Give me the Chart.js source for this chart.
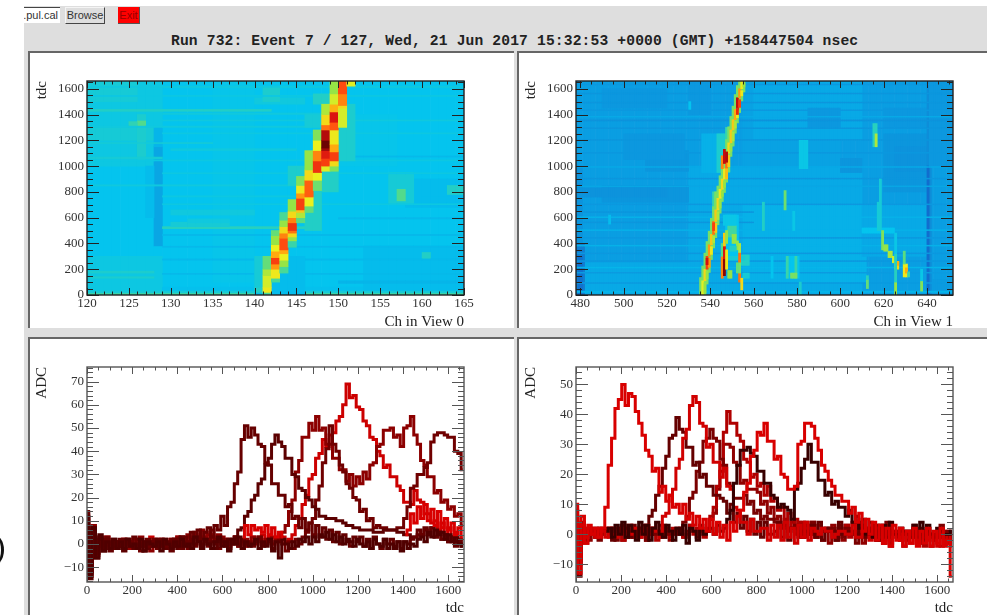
<!DOCTYPE html>
<html><head><meta charset="utf-8">
<script src="https://cdn.jsdelivr.net/npm/chart.js@4/dist/chart.umd.js"></script>
<style>
html,body{margin:0;padding:0;width:987px;height:615px;overflow:hidden;background:#fff}
#wrap{position:absolute;left:0;top:0;width:987px;height:615px;filter:blur(0.6px);overflow:hidden}
.abs{position:absolute;box-sizing:border-box}
canvas{position:absolute}
</style></head><body>
<div id="wrap">
<div class="abs" style="left:24px;top:6px;width:963px;height:609px;background:#dedede"></div>
<div class="abs" style="left:24px;top:7px;width:36px;height:16px;background:#fff;border-top:1px solid #444;overflow:hidden"><span style="position:absolute;right:2px;top:0;font:11px 'Liberation Sans';color:#333;line-height:15px;white-space:nowrap">t.pul.cal</span></div>
<div class="abs" style="left:65px;top:7px;width:40px;height:17px;background:#dedede;border:1px solid #f4f4f4;border-right:1px solid #444;border-bottom:1px solid #444;font:11px 'Liberation Sans';color:#333;line-height:15px;text-align:center">Browse</div>
<div class="abs" style="left:118px;top:7px;width:22px;height:17px;background:#f00;border-right:1px solid #555;border-bottom:1px solid #555;font:11px 'Liberation Sans';color:#900;line-height:16px;text-align:center">Exit</div>
<div class="abs" style="left:171px;top:32px;font:bold 14.65px 'Liberation Mono';letter-spacing:.14px;color:#222;white-space:nowrap;line-height:18px">Run 732: Event 7 / 127, Wed, 21 Jun 2017 15:32:53 +0000 (GMT) +158447504 nsec</div>
<div class="abs" style="left:28px;top:51px;width:486px;height:277px;background:#fff;border-left:2px solid #666;border-top:2px solid #666"></div>
<div class="abs" style="left:517px;top:51px;width:470px;height:277px;background:#fff;border-left:2px solid #666;border-top:2px solid #666"></div>
<div class="abs" style="left:28px;top:337px;width:486px;height:278px;background:#fff;border-left:2px solid #666;border-top:2px solid #666"></div>
<div class="abs" style="left:517px;top:337px;width:470px;height:278px;background:#fff;border-left:2px solid #666;border-top:2px solid #666"></div>
<div class="abs" style="left:-22px;top:533px;width:26px;height:34px;border-right:3px solid #111;border-radius:50%"></div>
<canvas id="c0" width="489" height="277" style="left:33px;top:54px"></canvas>
<canvas id="c1" width="465" height="277" style="left:522px;top:54px"></canvas>
<canvas id="c2" width="489" height="276" style="left:33px;top:341px"></canvas>
<canvas id="c3" width="465" height="276" style="left:522px;top:341px"></canvas>
</div>
<script>
// ---- axis ticks ----
const xTicks0=[120,125,130,135,140,145,150,155,160,165];
const xTicks1=[480,500,520,540,560,580,600,620,640];
const yTicksTdc=[0,200,400,600,800,1000,1200,1400,1600];
const xTicksTdc=[0,200,400,600,800,1000,1200,1400,1600];
const yTicksAdc0=[-10,0,10,20,30,40,50,60,70];
const yTicksAdc1=[-10,0,10,20,30,40,50];
// ---- heat map rectangles: first channel, end channel, first tdc, end tdc, level ----
const heatRects0=[
[120,165,0,1660,32],
[120,129,1000,1660,33.5],[120,129,0,300,33.5],[120,128,1200,1300,35],[120,126,1500,1660,35],[129,165,0,60,31.5],
[135,140,100,1660,32.5],[150,157,1000,1400,32.5],[153,165,0,380,31],[150,165,90,110,30],[158,165,680,900,31],[160,165,720,760,31],
[128,129,380,1150,28],[128,129,1150,1300,30],[127,128,600,1000,31],
[126,127,1050,1400,36],[126,127,1310,1350,43],[125,126,1310,1345,39],
[156,159,700,950,35],[157,158,730,820,43],[163,165,780,850,37],[160,161,280,330,37],
[120,165,0,18,40],[120,165,18,30,35],
[120,142,1425,1440,37],[120,150,1300,1310,34],[129,146,515,530,38],[130,137,530,565,35],[132,137,560,590,34],[130,140,620,660,34],
[120,145,845,855,34],[129,150,1400,1412,34],[130,145,1120,1135,34],[120,135,1175,1182,35],[120,129,1055,1070,35],[140,146,1480,1530,34],[141,143,1500,1620,36],
[120,128,170,185,36],[120,128,130,142,36],[129,165,1250,1258,33.5],[129,165,1350,1358,34],[129,165,700,708,33.5],[129,146,760,770,33.5],[129,165,940,948,33.5],
[120,165,1040,1048,33.5],[120,165,1540,1548,33.5],[120,165,1610,1618,34],[129,165,460,470,30.5],[129,165,270,280,30.5],[129,165,370,378,30.5],[129,165,160,168,30.5],[150,165,590,600,30.5],[150,165,1070,1078,30.5],
[140,146,0,300,31],[140,141,20,60,37],[140,141,60,300,35],
[146,148,500,810,37],[144,146,850,1000,36],[150,152,1040,1480,36],[147,150,1480,1560,37],[148,150,800,1000,37],[146,149,1300,1400,35],
[141,142,0,20,42],[141,142,20,60,58],[141,142,60,150,55],[141,142,150,200,52],[141,142,200,300,45],
[142,143,100,130,42],[142,143,130,200,58],[142,143,200,240,68],[142,143,240,290,78],[142,143,290,340,66],[142,143,340,390,57],[142,143,390,460,50],[142,143,460,500,45],
[143,144,170,220,42],[143,144,220,270,50],[143,144,270,320,57],[143,144,320,350,66],[143,144,350,440,76],[143,144,440,480,70],[143,144,480,530,60],[143,144,530,580,50],[143,144,580,640,42],
[144,145,370,420,40],[144,145,420,450,50],[144,145,450,480,60],[144,145,480,500,72],[144,145,500,560,80],[144,145,560,600,70],[144,145,600,650,60],[144,145,650,740,50],
[145,146,560,600,44],[145,146,600,640,52],[145,146,640,660,62],[145,146,660,750,78],[145,146,750,790,68],[145,146,790,850,58],[145,146,850,920,48],
[146,147,640,690,45],[146,147,690,760,57],[146,147,760,890,74],[146,147,890,970,60],[146,147,970,1120,50],
[147,148,810,890,46],[147,148,890,950,57],[147,148,950,1040,80],[147,148,1040,1120,70],[147,148,1120,1200,57],[147,148,1200,1280,48],
[148,149,960,1000,56],[148,149,1000,1060,78],[148,149,1060,1120,84],[148,149,1120,1140,92],[148,149,1140,1200,98],[148,149,1200,1280,90],[148,149,1280,1320,72],[148,149,1320,1400,60],[148,149,1400,1480,52],
[149,150,960,1000,48],[149,150,1000,1040,60],[149,150,1040,1110,78],[149,150,1110,1170,66],[149,150,1170,1280,58],[149,150,1280,1340,75],[149,150,1340,1420,85],[149,150,1420,1480,65],[149,150,1480,1560,55],[149,150,1560,1660,50],
[150,151,1300,1450,55],[150,151,1450,1470,60],[150,151,1470,1560,70],[150,151,1560,1660,76],
[151,152,1620,1660,56]
];
const heatRects1=[
[478,652,0,1660,27],
[530,610,0,1000,28.5],[555,612,100,700,29.5],[610,640,300,700,28.5],[478,530,0,250,28.5],[640,652,0,120,26.5],[555,600,1000,1660,27.5],[560,610,1200,1660,28.5],
[478,482,0,400,21],[479,481,0,300,18],[478,481,400,1000,25],
[490,530,720,850,25.5],[478,520,760,830,25],[510,530,960,1120,25.5],[500,528,1050,1250,26],[490,520,1450,1600,26],[530,540,1400,1660,26],
[600,610,950,1060,25.5],[620,640,800,1250,25.5],[625,640,960,1150,25],[585,600,1300,1450,26],[620,640,1300,1450,26],[640,642,0,1660,24],[640,641,0,1000,17],[641,652,1000,1660,26],
[478,652,20,30,30],[478,652,1350,1358,25],[478,652,1290,1296,25.5],[478,652,900,906,25.5],[478,560,640,646,25.5],[478,560,560,566,25.5],[478,652,1490,1496,25.5],[478,652,1560,1566,25.5],[478,652,1200,1206,25.5],
[478,652,320,326,26],[478,652,260,266,26],[478,652,440,446,26],[478,652,700,706,26],[478,652,1100,1106,26],[478,652,1430,1436,26],[478,652,1630,1636,26],[478,652,170,176,26.5],[478,652,90,96,26.5],
[478,652,1380,1386,28.5],[478,652,990,996,28.5],[478,652,840,846,28],[478,652,600,606,29.5],[478,652,500,506,29.5],[478,652,380,386,29.5],[478,652,210,216,30],
[536,548,950,1250,29.5],[543,549,950,1250,36],[547,549,1150,1300,40],[541,544,560,800,40],[542,543,600,800,47],[530,531,1440,1500,32],[493,494,550,620,31],
[564,565,500,720,37],[574,575,660,810,46],[581,585,980,1200,33],[615,617,1150,1330,38],[616,617,1150,1250,52],
[575,581,130,300,32],[575,576,130,300,40],[579,580,130,300,40],[577,580,130,170,47],[581,582,0,100,36],[578,579,500,650,33],[568,569,130,300,32],
[612,613,50,120,45],[612,613,120,150,38],[610,625,480,520,32],[617,618,500,720,35],[618,619,500,900,35],[619,620,350,500,48],[620,622,340,390,50],[622,624,290,340,52],[624,625,250,300,55],[625,627,200,260,60],[626,627,230,260,66],
[625,626,0,100,50],[625,626,100,320,38],[625,626,320,480,33],[629,631,140,240,58],[630,631,170,210,66],[629,630,240,340,44],[631,632,140,180,40],[637,638,30,110,48],[637,638,110,200,33],
[547,553,280,620,32],[548,552,450,540,41],[550,552,400,470,50],[552,553,350,420,50],[549,552,340,380,37],[554,558,230,310,37],[555,558,130,170,35],[548,556,270,300,35],[546,552,540,620,33],[548,550,130,190,50],[552,553,170,250,45],
[545,546,130,300,70],[545,546,300,400,44],[546,547,150,280,95],[546,547,280,380,85],[546,547,380,480,62],[547,548,200,350,58],[547,548,400,500,50],[553,554,250,330,72],[553,554,330,400,52],[553,554,100,170,72],[554,555,40,130,60],[553,554,170,250,46]
];
// ---- view-1 track: channel, first tdc, end tdc, level ----
const track1=[[536,0,110,56],[537,110,200,60],[538,200,300,78],[539,300,390,68],[540,390,470,62],[541,470,570,72],[542,570,660,62],[543,660,750,60],[544,750,820,58],[545,820,900,60],[546,900,980,58],[547,980,1100,72],[548,1100,1180,60],[549,1180,1280,62],[550,1280,1360,62],[551,1360,1440,66],[552,1440,1530,88],[553,1530,1600,68],[554,1600,1660,58]];
const trackHot1=[[538,235,285,86],[541,500,560,78],[545,980,1080,70],[546,1020,1130,88],[547,1030,1110,90],[547,900,980,64],[552,1400,1450,82]];
// ---- waveforms, one sample every 15 tdc ----
const tdcSamples=[0,15,30,45,60,75,90,105,120,135,150,165,180,195,210,225,240,255,270,285,300,315,330,345,360,375,390,405,420,435,450,465,480,495,510,525,540,555,570,585,600,615,630,645,660,675,690,705,720,735,750,765,780,795,810,825,840,855,870,885,900,915,930,945,960,975,990,1005,1020,1035,1050,1065,1080,1095,1110,1125,1140,1155,1170,1185,1200,1215,1230,1245,1260,1275,1290,1305,1320,1335,1350,1365,1380,1395,1410,1425,1440,1455,1470,1485,1500,1515,1530,1545,1560,1575,1590,1605,1620,1635,1650,1665];
const n=null;
const adcL1=[14,-13,7,-6,3,-2,2,-3,1,-2, 2,-2,1,-1,3,-2,0,-3,2,-1, 1,-2,2,-1,0,-3,2,0,-2,3, 1,5,3,6,2,5,7,3,8,6, 12,8,16,18,26,31,45,51,46,50, 47,43,42,35,34,26,26,21,21,16, 17,11,12,7,11,6,9,4,8,3, 7,2,6,1,5,0,4,1,-1,3, 1,3,-1,2,-2,3,0,-2,2,0, 2,-1,1,-2,1,0,2,3,6,4, 7,4,7,3,5,2,4,1,3,-1, 1,-1];
const adcL2=[13,-12,6,-4,2,-3,1,-2,2,-1, 1,-3,2,0,-2,2,-1,1,-2,1, -1,2,0,-2,1,-1,2,-2,3,1, -1,2,0,3,-1,2,0,1,-2,2, 1,-1,2,0,3,6,7,12,14,19, 21,26,28,34,37,43,47,44,42,37, 37,30,29,24,23,20,19,16,15,12, 12,11,11,11,10,10,9,8,8,7, 7,6,6,6,6,5,5,5,6,6, 6,6,5,5,4,4,3,3,4,4, 6,4,7,3,5,2,4,1,3,1, 2,0];
const adcL3=[12,-14,8,-5,3,-1,2,-2,0,1, -1,2,-2,1,0,-2,3,-1,1,-3, 2,0,-1,2,-2,1,0,3,-1,2, 4,2,5,3,6,3,4,6,2,4, 3,1,2,0,3,-1,1,2,0,3, 1,3,0,2,1,3,2,4,5,8, 14,19,31,36,46,46,52,49,55,49, 50,43,43,37,37,32,32,27,30,25, 29,26,31,28,34,35,42,43,49,49, 50,46,47,42,50,51,55,47,43,36, 34,29,29,22,23,18,19,15,16,12, 13,8];
const adcL4=[11,-12,6,-4,2,-1,3,-2,1,-1, 0,-2,2,1,-1,2,-3,0,1,-1, 2,-1,1,-2,0,2,-1,1,3,0, -2,1,-1,2,0,1,-1,3,0,-2, 2,0,-2,1,3,-1,2,0,1,-1, 1,3,-1,0,2,-2,1,3,0,-3, 1,-2,2,0,3,5,9,11,19,25, 35,41,51,43,40,34,31,26,24,20, 19,14,15,10,11,7,8,7,7,6, 6,6,7,7,11,16,24,25,30,30, 33,35,44,47,48,48,47,46,46,40, 39,32];
const adcL5=[10,-11,5,-3,2,-1,3,0,-2,1, -1,2,0,-2,2,-1,1,0,-1,3, 1,-1,2,0,-2,2,1,3,0,2, 3,1,4,2,3,5,2,4,1,3, 0,2,-1,1,3,0,2,-1,1,3, 0,2,4,1,3,0,2,1,3,1, 2,4,8,11,17,21,28,30,37,39, 45,42,47,48,53,55,60,69,63,64, 59,58,53,51,46,45,40,38,33,34, 29,29,25,23,18,18,17,23,19,18, 13,13,9,10,6,9,4,7,2,5, 2,2];
const adcL6=[n,n,n,n,n,n,n,n,n,n, n,n,n,n,n,n,n,n,n,n, n,n,n,n,n,n,n,n,n,n, n,n,n,n,n,n,n,n,n,n, n,n,n,n,n,n,3,8,4,8, 6,7,5,8,4,7,3,5,3,n, n,n,n,n,n,n,n,n,n,n, n,n,n,n,n,n,n,n,n,n, n,n,n,n,n,n,n,n,n,n, n,n,n,n,4,6,13,9,16,11, 17,10,15,8,14,7,11,6,9,4, 7,3];
const adcL7=[12,-15,7,-6,4,-3,1,-2,2,-2, 1,-2,2,-1,0,-2,2,-3,1,0, -1,1,-3,2,0,-2,1,-1,2,-1, 0,-2,3,1,-2,2,0,-2,1,3, -1,1,-3,2,0,3,-2,1,-1,0, 2,-2,1,-1,2,-3,1,-6,2,0, -2,1,-1,2,1,3,0,3,1,4, 3,5,2,4,1,3,0,2,1,-1, 2,0,-1,1,-2,2,0,-1,2,-2, 0,-2,1,-3,1,-2,0,-1,2,3, 1,5,3,6,4,5,2,4,1,3, 0,-1];
const adcR1=[10,-13,6,-3,3,0,2,-1,2,9, 23,32,42,45,50,43,47,46,41,37, 33,28,26,21,22,14,16,11,13,9, 10,7,10,5,7,3,6,2,5,1, 5,0,4,-1,3,-2,4,1,6,8, 14,17,26,28,34,33,37,31,31,25, 26,20,19,15,15,16,30,31,37,37, 36,32,28,23,21,18,16,13,13,11, 11,7,9,4,7,1,5,0,4,-2, 3,-3,2,-4,3,-2,2,-4,1,-3, 2,-4,1,-3,2,-4,1,-3,2,-4, -2,-14];
const adcR2=[6,-8,3,-1,2,0,-1,2,1,-1, 2,0,-1,2,0,1,3,0,2,-1, 1,3,0,2,1,-1,6,7,13,15, 22,25,32,35,43,46,44,37,36,29, 30,24,24,19,22,16,15,9,8,4, 4,0,5,1,1,2,2,-2,3,-1, 3,-2,4,-1,2,-3,3,-1,4,-2, 2,1,0,2,1,1,-1,0,1,1, 0,0,3,-1,-1,1,2,-2,3,-1, 2,-3,3,-1,0,0,-2,1,1,-3, 2,-3,1,1,-2,0,0,-4,1,-3, 0,-4];
const adcR3=[4,-9,2,-3,1,2,-1,0,2,1, -1,2,0,1,-2,2,1,-1,0,2, 1,-1,2,0,-2,1,3,0,-1,2, 0,2,-1,1,3,0,2,1,-1,2, 6,9,16,23,34,41,37,37,33,31, 25,24,19,20,16,17,13,16,11,12, 8,9,4,7,2,5,0,4,-1,3, 4,-1,3,-2,2,2,1,1,0,0, 3,-1,4,0,0,1,1,0,-1,0, 3,-2,2,-4,1,1,-1,0,0,-1, -1,0,0,-4,2,-1,-1,0,-4,1, 0,-3];
const adcR4=[8,-14,4,-2,2,1,-1,2,0,1, 1,-2,2,0,3,1,-1,3,0,2, 3,3,6,8,13,16,22,26,32,33, 39,35,34,29,29,23,24,19,20,16, 16,13,13,12,11,7,10,4,7,2, 6,1,5,0,4,-1,4,0,0,1, 4,-1,3,-2,2,2,-1,1,1,0, 3,-1,4,-2,2,1,1,-2,4,0, 1,1,0,0,4,-1,-1,1,2,-2, 1,1,-1,0,0,-1,-2,0,0,-1, 3,-2,2,-3,1,0,-2,-1,0,0, -1,-1];
const adcR5=[5,-10,3,-1,2,0,1,-2,1,2, 0,2,-2,1,3,-1,0,2,1,-1, 1,-2,2,0,1,3,-1,2,0,1, 2,0,4,6,12,14,21,24,31,32, 35,32,31,25,23,17,16,12,12,12, 13,10,11,7,8,5,6,5,5,4, 4,3,3,2,2,3,3,-1,4,0, 4,0,0,1,1,2,2,-2,3,-1, 2,2,1,-3,3,0,0,2,1,1, 0,0,4,-3,1,1,0,0,-2,-1, 2,-3,1,1,0,0,-2,-1,3,-3, 1,-2];
const adcR6=[n,n,n,n,n,n,n,n,n,1, 2,-1,3,0,4,-1,3,1,-2,4, 0,3,-2,2,4,0,-1,3,1,-2, 2,0,3,-3,2,1,-2,3,0,1, 2,0,3,1,2,5,8,17,23,28, 28,29,27,26,21,21,17,17,13,12, 9,10,9,8,5,15,17,22,25,30, 24,24,18,18,13,14,10,11,9,9, 6,8,4,6,2,5,0,4,-1,3, -2,3,-1,4,0,0,2,1,1,-1, 3,-1,4,-2,3,0,-1,2,1,0, 0,1];
const adcR7=[3,-7,2,0,-2,1,2,-1,0,1, 2,-1,0,1,-2,2,0,-1,1,2, 0,-2,1,2,0,-1,2,1,-2,0, 1,2,-1,0,3,1,-1,2,0,1, 5,7,15,21,30,30,29,24,23,17, 18,15,15,15,14,10,11,7,9,5, 6,2,5,1,4,0,4,-1,3,0, 3,-1,0,1,2,-3,3,-1,2,-2, 3,0,0,-1,3,-3,2,-1,3,-2, 2,-3,1,1,0,-1,2,-4,1,0, 0,0,-3,1,0,-4,0,-1,-1,0, -3,1];
// series bottom to top
const leftWaves=[[adcL5,'#cc0000'],[adcL3,'#8c0000'],[adcL4,'#700000'],[adcL2,'#5c0000'],[adcL1,'#660000'],[adcL7,'#500000'],[adcL6,'#d80000']];
const rightWaves=[[adcR7,'#900000'],[adcR3,'#b00000'],[adcR5,'#7a0000'],[adcR4,'#650000'],[adcR2,'#d00000'],[adcR6,'#380000'],[adcR1,'#d80000']];

// ---- palette ----
const stops=[[0,[10,30,150]],[15,[16,100,205]],[22,[18,130,210]],[27,[10,158,226]],[32,[4,196,238]],[38,[40,208,190]],[44,[90,220,130]],[50,[150,228,70]],[57,[235,240,30]],[66,[255,170,15]],[76,[255,75,15]],[86,[215,15,15]],[100,[90,0,0]]];
function levelColor(v){
  let i=1; while(i<stops.length-1&&stops[i][0]<v)i++;
  const a=stops[i-1],b=stops[i],f=Math.min(1,Math.max(0,(v-a[0])/(b[0]-a[0])));
  const c=a[1].map((k,j)=>Math.round(k+(b[1][j]-k)*f));
  return 'rgb('+c.join(',')+')';
}
function cellsFrom(rects){
  const data=[],colors=[];
  for(const [c0,c1,t0,t1,v] of rects){
    const col=levelColor(v);
    for(let c=c0;c<c1;c++){data.push({x:c+0.5,y:[t0,t1]});colors.push(col);}
  }
  return {data,colors};
}
function label(v){return v<0?'\u2212'+Math.abs(v):String(v);}
const rootTicks={id:'rootTicks',afterDraw(chart,args,o){
  const {ctx,chartArea:a,scales:{x,y}}=chart;
  ctx.save();ctx.strokeStyle=o.color;ctx.lineWidth=1;ctx.beginPath();
  const seq=(min,max,step)=>{const r=[];let s=Math.ceil(min/step);for(;s*step<=max;s++)r.push(s*step);return r;};
  for(const v of seq(x.min,x.max,o.xMinor)){const p=Math.round(x.getPixelForValue(v))+.5;const L=(v%o.xMajor===0)?o.xLen:o.xLen/2;ctx.moveTo(p,a.bottom);ctx.lineTo(p,a.bottom-L);ctx.moveTo(p,a.top);ctx.lineTo(p,a.top+L);}
  for(const v of seq(y.min,y.max,o.yMinor)){const p=Math.round(y.getPixelForValue(v))+.5;const L=(v%o.yMajor===0)?o.yLen:o.yLen/2;ctx.moveTo(a.left,p);ctx.lineTo(a.left+L,p);ctx.moveTo(a.right,p);ctx.lineTo(a.right-L,p);}
  ctx.stroke();
  ctx.lineWidth=1.4;ctx.strokeRect(a.left,a.top,a.right-a.left,a.bottom-a.top);
  ctx.restore();
}};
function makeChart(id,c){
  const font={family:'Liberation Serif',size:13};
  const tfont={family:'Liberation Serif',size:15};
  return new Chart(document.getElementById(id),{
    type:c.type,
    data:{datasets:c.datasets},
    plugins:[rootTicks],
    options:{
      responsive:false,animation:false,events:[],
      layout:{padding:{left:0,top:c.top,right:c.right,bottom:0}},
      plugins:{legend:{display:false},tooltip:{enabled:false},rootTicks:{color:c.tickColor,xMinor:c.xMinor,xMajor:c.xMajor,yMinor:c.yMinor,yMajor:c.yMajor,xLen:7,yLen:12}},
      scales:{
        x:{type:'linear',offset:false,min:c.xMin,max:c.xMax,grid:{display:false,drawTicks:false},border:{display:false},
          ticks:{autoSkip:false,maxRotation:0,padding:c.xPad,color:'#333',font,callback:label,includeBounds:false},
          afterBuildTicks(s){s.ticks=c.xTicks.map(v=>({value:v}));},
          afterFit(s){s.height=c.xHeight;s.paddingLeft=0;s.paddingRight=0;},
          title:{display:true,text:c.xTitle,align:'end',color:'#222',font:tfont,padding:{top:0,bottom:0}}},
        y:{type:'linear',min:c.yMin,max:c.yMax,grid:{display:false,drawTicks:false},border:{display:false},
          ticks:{autoSkip:false,padding:3,color:'#333',font,callback:label,includeBounds:false},
          afterBuildTicks(s){s.ticks=c.yTicks.map(v=>({value:v}));},
          afterFit(s){s.width=54;s.paddingTop=0;s.paddingBottom=0;},
          title:{display:true,text:c.yTitle,align:'end',color:'#222',font:tfont,padding:{top:0,bottom:0}}}
      }
    }
  });
}
function heatDataset(rects){
  const {data,colors}=cellsFrom(rects);
  return [{data,backgroundColor:colors,borderWidth:0,barPercentage:1,categoryPercentage:1,grouped:false}];
}
function waveDatasets(list){
  return list.slice().reverse().map(([vals,col])=>({
    data:vals.map((v,i)=>({x:tdcSamples[i],y:v})),
    borderColor:col,borderWidth:3,borderJoinStyle:'miter',stepped:'middle',pointRadius:0,tension:0,spanGaps:false
  }));
}
const trackRects=[
  ...track1.map(([c,t0,t1])=>[c-1,c+2,Math.max(0,t0-25),t1+25,47]),
  ...track1.map(([c,t0,t1,v])=>[c,c+1,t0,t1,v]),
  ...track1.map(([c,t0,t1,v])=>[c+1,c+2,t0+15,t1-15,Math.max(50,v-10)]),
  ...trackHot1.map(([c,t0,t1,v])=>[c,c+1,t0,t1,v])
];
makeChart('c0',{type:'bar',datasets:heatDataset(heatRects0),top:27,right:58,xHeight:36,xPad:1,xMin:120,xMax:165,yMin:0,yMax:1660,xTicks:xTicks0,yTicks:yTicksTdc,xMinor:1,xMajor:5,yMinor:50,yMajor:200,xTitle:'Ch in View 0',yTitle:'tdc',tickColor:'#222'});
makeChart('c1',{type:'bar',datasets:heatDataset(heatRects1.concat(trackRects)),top:27,right:34,xHeight:36,xPad:1,xMin:478,xMax:652,yMin:0,yMax:1660,xTicks:xTicks1,yTicks:yTicksTdc,xMinor:5,xMajor:20,yMinor:50,yMajor:200,xTitle:'Ch in View 1',yTitle:'tdc',tickColor:'#222'});
makeChart('c2',{type:'line',datasets:waveDatasets(leftWaves),top:26,right:58,xHeight:35,xPad:1,xMin:0,xMax:1670,yMin:-16.4,yMax:76.3,xTicks:xTicksTdc,yTicks:yTicksAdc0,xMinor:50,xMajor:200,yMinor:2,yMajor:10,xTitle:'tdc',yTitle:'ADC',tickColor:'#555'});
makeChart('c3',{type:'line',datasets:waveDatasets(rightWaves),top:26,right:34,xHeight:35,xPad:1,xMin:0,xMax:1670,yMin:-15.9,yMax:55.8,xTicks:xTicksTdc,yTicks:yTicksAdc1,xMinor:50,xMajor:200,yMinor:2,yMajor:10,xTitle:'tdc',yTitle:'ADC',tickColor:'#555'});
</script>
</body></html>
